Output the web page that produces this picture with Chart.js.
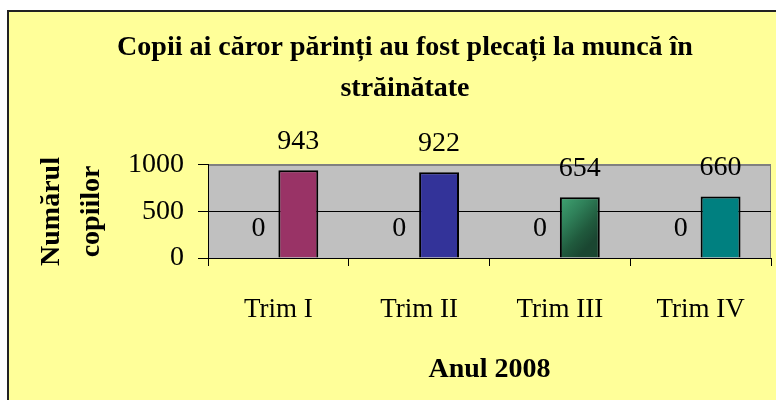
<!DOCTYPE html>
<html>
<head>
<meta charset="utf-8">
<script src="https://cdn.jsdelivr.net/npm/chart.js@4.4.0/dist/chart.umd.min.js"></script>
<style>
  body { margin: 0; background: #fff; }
  #frame { position: absolute; left: 7px; top: 10px; width: 769px; height: 390px;
           background: #FFFF99; border-left: 2px solid #222; border-top: 2px solid #222; }
  #graficul { position: absolute; left: 0; top: 0; }
</style>
</head>
<body>
<div id="frame"></div>
<canvas id="graficul" width="776" height="400"></canvas>
<script>
const trimestre = ['Trim I', 'Trim II', 'Trim III', 'Trim IV'];
const serieZero = [0, 0, 0, 0];
const copii = [943, 922, 654, 660];
const culori = ['#993366', '#333399', 'gradient', '#008080'];
const tickuriY = [0, 500, 1000];

const fontSerif = 'Liberation Serif, Times New Roman, serif';

// bara din Trim III are un gradient verde (stanga-sus deschis, dreapta inchis)
function culoareBara(context) {
    const c = culori[context.dataIndex];
    if (c !== 'gradient') return c;
    const chart = context.chart;
    const area = chart.chartArea;
    const xs = chart.scales.x, ys = chart.scales.y;
    if (!area || !xs || !ys) return '#2a7a52';
    const x0 = xs.getPixelForValue(context.dataIndex);
    const lat = (area.right - area.left) / trimestre.length * 0.567 / 2;
    const y0 = ys.getPixelForValue(copii[context.dataIndex]);
    if (![x0, lat, y0, area.bottom].every(Number.isFinite)) return '#2a7a52';
    const g = chart.ctx.createLinearGradient(x0, y0, x0 + lat, y0 + (area.bottom - y0) * 0.6);
    g.addColorStop(0, '#40a573');
    g.addColorStop(0.4, '#2f8059');
    g.addColorStop(0.75, '#205a3d');
    g.addColorStop(1, '#1a4631');
    return g;
}

const fundalPlot = {
    id: 'fundalPlot',
    beforeDraw(chart) {
        const { ctx, chartArea: a } = chart;
        ctx.save();
        ctx.fillStyle = '#C0C0C0';
        ctx.fillRect(a.left, a.top, a.right - a.left, a.bottom - a.top);
        ctx.strokeStyle = '#808080';
        ctx.lineWidth = 1;
        ctx.strokeRect(a.left + 0.5, a.top + 0.5, a.right - a.left - 1, a.bottom - a.top);
        ctx.restore();
    }
};

const eticheteValori = {
    id: 'eticheteValori',
    afterDatasetsDraw(chart) {
        const ctx = chart.ctx;
        ctx.save();
        ctx.font = '28px ' + fontSerif;
        ctx.fillStyle = '#000';
        ctx.textAlign = 'center';
        ctx.textBaseline = 'middle';
        chart.data.datasets.forEach((ds, i) => {
            chart.getDatasetMeta(i).data.forEach((bar, j) => {
                ctx.fillText(String(ds.data[j]), bar.x, bar.y - 29);
            });
        });
        ctx.restore();
    }
};

new Chart(document.getElementById('graficul').getContext('2d'), {
    type: 'bar',
    data: {
        labels: trimestre,
        datasets: [{
            label: 'Serie 1',
            data: serieZero,
            backgroundColor: 'rgba(0,0,0,0)',
            borderWidth: 0
        }, {
            label: 'Copii',
            data: copii,
            backgroundColor: culoareBara,
            borderColor: '#000',
            borderWidth: 2
        }]
    },
    options: {
        responsive: false,
        animation: false,
        categoryPercentage: 0.567,
        barPercentage: 1,
        layout: { padding: { left: 39, right: 5, top: 0, bottom: 0 } },
        plugins: {
            legend: { display: false },
            tooltip: { enabled: false },
            title: {
                display: true,
                text: ['Copii ai căror părinți au fost plecați la muncă în', 'străinătate'],
                color: '#000',
                font: { family: fontSerif, size: 28, weight: 'bold', lineHeight: 1.464 },
                padding: { top: 27, bottom: 56 }
            }
        },
        scales: {
            x: {
                afterFit(scale) { scale.height = 142; },
                grid: { offset: true, drawOnChartArea: false, tickLength: 8, tickColor: '#000' },
                border: { color: '#000', width: 1 },
                ticks: { color: '#000', padding: 28, font: { family: fontSerif, size: 27 } },
                title: {
                    display: true,
                    text: 'Anul 2008',
                    color: '#000',
                    font: { family: fontSerif, size: 28, weight: 'bold' },
                    padding: { top: 0, bottom: 13 }
                }
            },
            y: {
                min: 0,
                max: 1000,
                afterFit(scale) { scale.width = 169; },
                afterBuildTicks(scale) { scale.ticks = tickuriY.map(v => ({ value: v })); },
                grid: {
                    color: ctx => (ctx.tick && ctx.tick.value === 1000) ? '#808080' : '#000',
                    tickColor: '#000',
                    tickLength: 10
                },
                border: { color: '#000', width: 1 },
                ticks: {
                    color: '#000',
                    padding: 14,
                    font: { family: fontSerif, size: 28 },
                    callback: v => String(v)
                },
                title: {
                    display: true,
                    text: ['Numărul', 'copiilor'],
                    color: '#000',
                    font: { family: fontSerif, size: 28, weight: 'bold', lineHeight: 1.43 },
                    padding: { top: -7, bottom: 0 }
                }
            }
        }
    },
    plugins: [fundalPlot, eticheteValori]
});
</script>
</body>
</html>
